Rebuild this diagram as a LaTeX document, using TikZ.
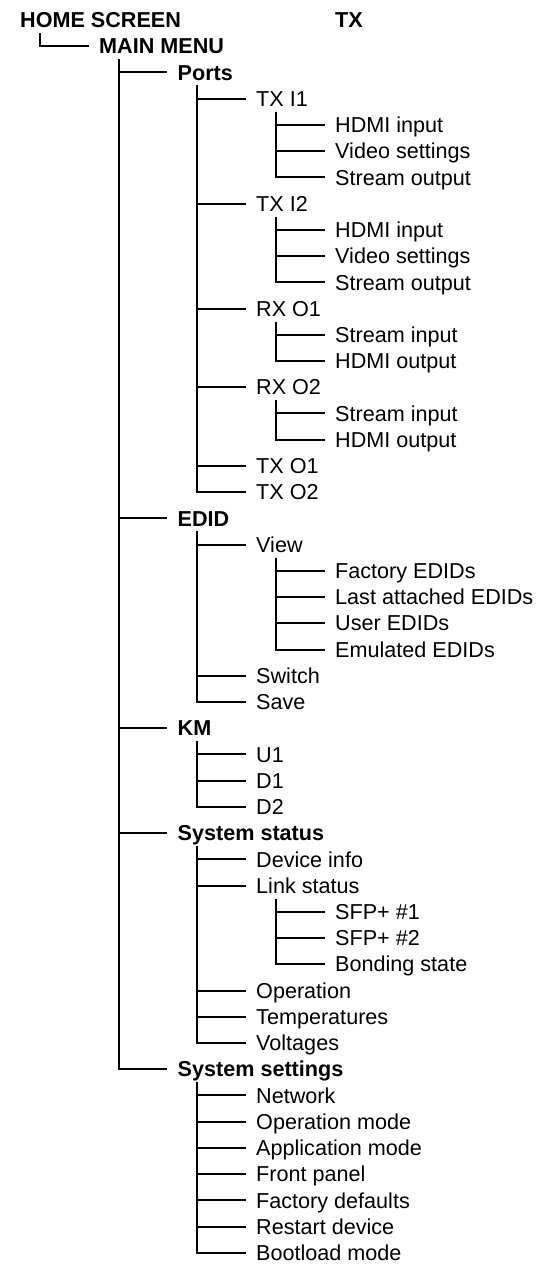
\documentclass[tikz,border=0pt]{standalone}
\usepackage{fontspec}
\setmainfont{Liberation Sans}
\usetikzlibrary{calc}
\tikzset{
  item/.style={anchor=west, inner xsep=0pt, inner ysep=0pt, text height=15.4pt, text depth=0pt,
    font=\fontsize{21.6}{25}\selectfont},
  bitem/.style={item, font=\fontsize{21.6}{25}\selectfont\bfseries},
  conn/.style={draw=black, line width=2pt}
}
\begin{document}
\begin{tikzpicture}[x=1pt,y=-1pt]
\useasboundingbox (0,0) rectangle (541,1264);
\def\XA{20}\def\XB{99}\def\XC{177.5}\def\XD{256}\def\XE{335}
\node[bitem] (home) at (\XA,{20+26.23*0}) {HOME SCREEN};
\node[bitem] (tx) at (\XE,{20+26.23*0}) {TX};
\node[bitem] (menu) at (\XB,{20+26.23*1}) {MAIN MENU};
\node[bitem] (ports) at (\XC,{20+26.23*2}) {Ports};
\node[item] (txi1) at (\XD,{20+26.23*3}) {TX I1};
\node[item] (txi1a) at (\XE,{20+26.23*4}) {HDMI input};
\node[item] (txi1b) at (\XE,{20+26.23*5}) {Video settings};
\node[item] (txi1c) at (\XE,{20+26.23*6}) {Stream output};
\node[item] (txi2) at (\XD,{20+26.23*7}) {TX I2};
\node[item] (txi2a) at (\XE,{20+26.23*8}) {HDMI input};
\node[item] (txi2b) at (\XE,{20+26.23*9}) {Video settings};
\node[item] (txi2c) at (\XE,{20+26.23*10}) {Stream output};
\node[item] (rxo1) at (\XD,{20+26.23*11}) {RX O1};
\node[item] (rxo1a) at (\XE,{20+26.23*12}) {Stream input};
\node[item] (rxo1b) at (\XE,{20+26.23*13}) {HDMI output};
\node[item] (rxo2) at (\XD,{20+26.23*14}) {RX O2};
\node[item] (rxo2a) at (\XE,{20+26.23*15}) {Stream input};
\node[item] (rxo2b) at (\XE,{20+26.23*16}) {HDMI output};
\node[item] (txo1) at (\XD,{20+26.23*17}) {TX O1};
\node[item] (txo2) at (\XD,{20+26.23*18}) {TX O2};
\node[bitem] (edid) at (\XC,{20+26.23*19}) {EDID};
\node[item] (view) at (\XD,{20+26.23*20}) {View};
\node[item] (viewa) at (\XE,{20+26.23*21}) {Factory EDIDs};
\node[item] (viewb) at (\XE,{20+26.23*22}) {Last attached EDIDs};
\node[item] (viewc) at (\XE,{20+26.23*23}) {User EDIDs};
\node[item] (viewd) at (\XE,{20+26.23*24}) {Emulated EDIDs};
\node[item] (switch) at (\XD,{20+26.23*25}) {Switch};
\node[item] (save) at (\XD,{20+26.23*26}) {Save};
\node[bitem] (km) at (\XC,{20+26.23*27}) {KM};
\node[item] (u1) at (\XD,{20+26.23*28}) {U1};
\node[item] (d1) at (\XD,{20+26.23*29}) {D1};
\node[item] (d2) at (\XD,{20+26.23*30}) {D2};
\node[bitem] (sstat) at (\XC,{20+26.23*31}) {System status};
\node[item] (devinfo) at (\XD,{20+26.23*32}) {Device info};
\node[item] (link) at (\XD,{20+26.23*33}) {Link status};
\node[item] (sfpa) at (\XE,{20+26.23*34}) {SFP+ \#1};
\node[item] (sfpb) at (\XE,{20+26.23*35}) {SFP+ \#2};
\node[item] (bond) at (\XE,{20+26.23*36}) {Bonding state};
\node[item] (oper) at (\XD,{20+26.23*37}) {Operation};
\node[item] (temp) at (\XD,{20+26.23*38}) {Temperatures};
\node[item] (volt) at (\XD,{20+26.23*39}) {Voltages};
\node[bitem] (sset) at (\XC,{20+26.23*40}) {System settings};
\node[item] (net) at (\XD,{20+26.23*41}) {Network};
\node[item] (opmode) at (\XD,{20+26.23*42}) {Operation mode};
\node[item] (appmode) at (\XD,{20+26.23*43}) {Application mode};
\node[item] (front) at (\XD,{20+26.23*44}) {Front panel};
\node[item] (facdef) at (\XD,{20+26.23*45}) {Factory defaults};
\node[item] (restart) at (\XD,{20+26.23*46}) {Restart device};
\node[item] (boot) at (\XD,{20+26.23*47}) {Bootload mode};
\foreach \p/\c in {home/menu, menu/ports, menu/edid, menu/km, menu/sstat, menu/sset,
  ports/txi1, ports/txi2, ports/rxo1, ports/rxo2, ports/txo1, ports/txo2,
  txi1/txi1a, txi1/txi1b, txi1/txi1c, txi2/txi2a, txi2/txi2b, txi2/txi2c,
  rxo1/rxo1a, rxo1/rxo1b, rxo2/rxo2a, rxo2/rxo2b,
  edid/view, edid/switch, edid/save, view/viewa, view/viewb, view/viewc, view/viewd,
  km/u1, km/d1, km/d2,
  sstat/devinfo, sstat/link, sstat/oper, sstat/temp, sstat/volt,
  link/sfpa, link/sfpb, link/bond,
  sset/net, sset/opmode, sset/appmode, sset/front, sset/facdef, sset/restart, sset/boot}
  \draw[conn] ($(\p.west)+(19.5,13)$) |- ([xshift=-10.5pt]\c.west);
\end{tikzpicture}
\end{document}
